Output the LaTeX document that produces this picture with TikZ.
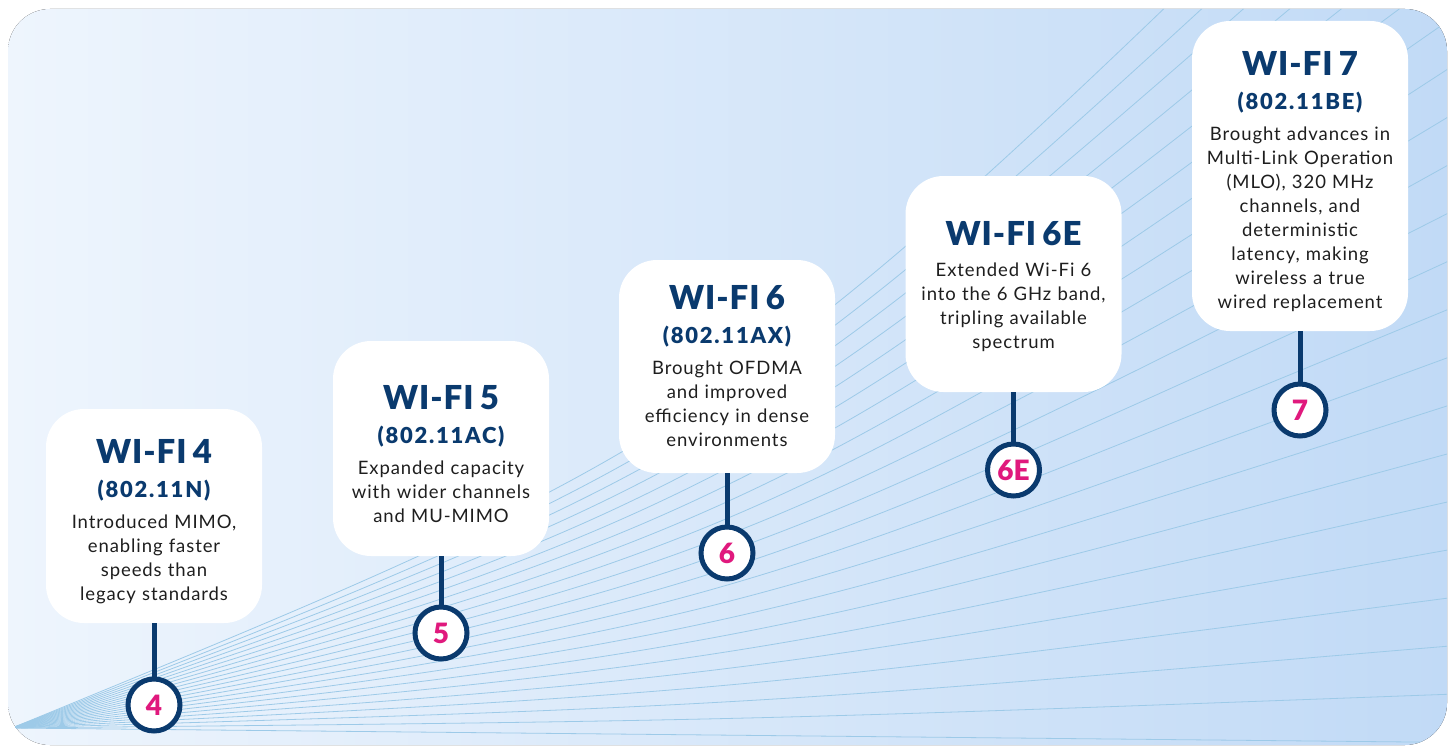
\documentclass[tikz,border=0pt]{standalone}
\usepackage{fontspec}
\setmainfont{Lato}[LetterSpace=5]
\newfontfamily\heavyfont{Lato}[UprightFont={* Black}, LetterSpace=3]
\newfontfamily\subfont{Lato}[UprightFont={* Black}, LetterSpace=8]
\newfontfamily\numfont{Lato}[UprightFont={* Black}]

\definecolor{navy}{HTML}{0A3A6E}
\definecolor{pinkno}{HTML}{E0197D}
\definecolor{bodytxt}{HTML}{1E1E1E}
\definecolor{bgleft}{HTML}{EEF5FD}
\definecolor{bgright}{HTML}{C1DAF6}
\definecolor{fan}{HTML}{9DCAE8}

\newcommand{\ttl}[2][36pt]{{\heavyfont\fontsize{33}{33}\selectfont\color{navy}\rule{0pt}{#1}#2}}
\newcommand{\sbt}[1]{{\subfont\fontsize{22}{22}\selectfont\color{navy}#1}}

\tikzset{
  stagebox/.style={fill=white, rounded corners=38pt, minimum width=216pt,
    text width=212pt, align=center, inner sep=0pt, text=bodytxt,
    font=\fontsize{18.5}{24}\selectfont},
  numring/.style={circle, draw=navy, line width=5pt, fill=white, minimum size=52pt,
    inner sep=0pt, text=pinkno, font=\numfont\fontsize{28}{28}\selectfont},
  stem/.style={draw=navy, line width=5pt},
  fanline/.style={draw=fan, line width=0.8pt}
}

\begin{document}
\begin{tikzpicture}[x=1pt, y=-1pt]
		\useasboundingbox (0,0) rectangle (1450,749);
		\fill[left color=bgleft, right color=bgright, rounded corners=42pt] (8,9) rectangle (1447,745);
		\begin{scope}
			\clip[rounded corners=42pt] (8,9) rectangle (1447,745);
			\foreach \k in {0,...,21}
				\draw[fanline] (12,728) .. controls (732,{735.2-14.4*\k}) .. (1452,{742.4-48.29*\k});
		\end{scope}

		\node[stagebox, minimum height=214pt] (b4) at (154,516)
			{\ttl{WI-FI 4}\\[10pt]\sbt{(802.11N)}\\[7pt]Introduced MIMO,\\enabling faster\\speeds than\\legacy standards};
		\node[stagebox, minimum height=215pt] (b5) at (441,448.5)
			{\ttl{WI-FI 5}\\[10pt]\sbt{(802.11AC)}\\[7pt]Expanded capacity\\with wider channels\\and MU-MIMO};
		\node[stagebox, minimum height=213pt] (b6) at (727,366.5)
			{\ttl[24pt]{WI-FI 6}\\[10pt]\sbt{(802.11AX)}\\[7pt]Brought OFDMA\\and improved\\efficiency in dense\\environments};
		\node[stagebox, minimum height=216pt] (b6e) at (1013.5,284)
			{\ttl[30pt]{WI-FI 6E}\\[7pt]Extended Wi-Fi 6\\into the 6 GHz band,\\tripling available\\spectrum};
		\node[stagebox, minimum height=310pt] (b7) at (1300,176)
			{\ttl{WI-FI 7}\\[10pt]\sbt{(802.11BE)}\\[7pt]Brought advances in\\Multi-Link Operation\\(MLO), 320 MHz\\channels, and\\deterministic\\latency, making\\wireless a true\\wired replacement};

		\node[numring] (n4) at (154,705) {4};
		\node[numring] (n5) at (441,633) {5};
		\node[numring] (n6) at (727,553) {6};
		\node[numring] (n6e) at (1013.5,470) {6E};
		\node[numring] (n7) at (1300,410) {7};

		\draw[stem] (b4) -- (n4);
		\draw[stem] (b5) -- (n5);
		\draw[stem] (b6) -- (n6);
		\draw[stem] (b6e) -- (n6e);
		\draw[stem] (b7) -- (n7);
\end{tikzpicture}
\end{document}
